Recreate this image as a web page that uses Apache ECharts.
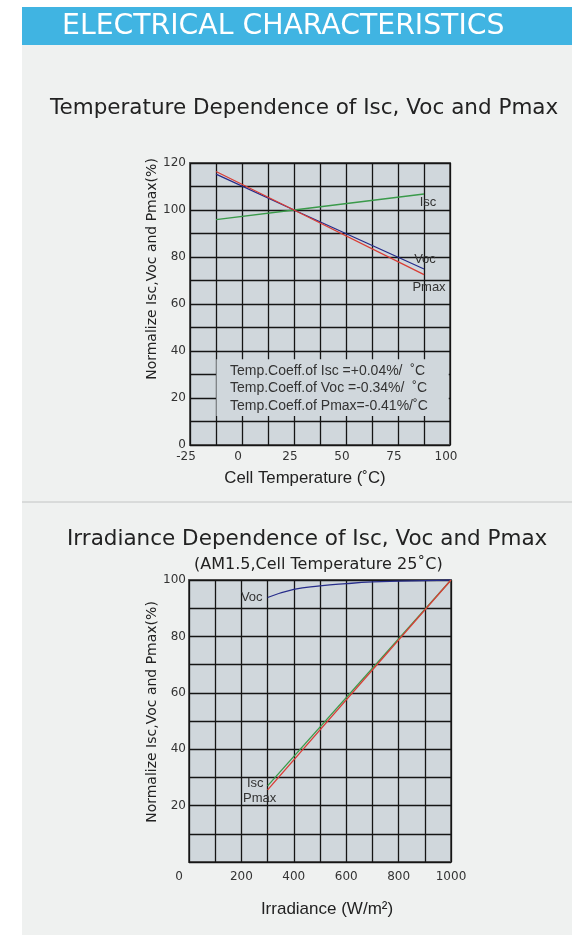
<!DOCTYPE html>
<html><head><meta charset="utf-8">
<script src="https://cdn.jsdelivr.net/npm/echarts@6/dist/echarts.min.js"></script>
<style>html,body{margin:0;padding:0;background:#fff}#c{width:572px;height:935px}</style>
</head><body><div id="c"></div>
<script>
// ---- data ----
const tempX = [-12.5, 25, 87.5];
const tempIsc = [95.9, 100, 106.8];
const tempVoc = [115.3, 100, 74.9];
const tempPmax = [116.4, 100, 72.5];
const irrVocX = [300, 400, 500, 600, 700, 800, 900, 1000];
const irrVoc = [93.8, 96.7, 97.9, 98.7, 99.3, 99.6, 99.8, 100];
const irrLinX = [300, 1000];
const irrIsc = [27, 100];
const irrPmax = [25.6, 100];
const coeffLines = ['Temp.Coeff.of Isc =+0.04%/  \u02DAC', 'Temp.Coeff.of Voc =-0.34%/  \u02DAC', 'Temp.Coeff.of Pmax=-0.41%/\u02DAC'];
const yName = 'Normalize Isc,Voc and Pmax(%)';

const C_ISC = '#3a9a4a', C_VOC = '#262c8a', C_PMAX = '#d93d35';
const DJ = '"DejaVu Sans", Verdana, sans-serif';
const LS = '"Liberation Sans", Arial, sans-serif';
const lblStyle = {color: '#333', fontFamily: LS, fontSize: 13};

function pts(xs, ys, labelIdx, name, labelOpt) {
  return xs.map((x, i) => {
    const d = {value: [x, ys[i]]};
    if (i === labelIdx) d.label = Object.assign({show: true, formatter: name}, lblStyle, labelOpt);
    return d;
  });
}
function lineSeries(name, xi, color, data, extra) {
  return Object.assign({type: 'line', name: name, xAxisIndex: xi, yAxisIndex: xi,
    symbol: 'circle', symbolSize: 0.01, showSymbol: true, showAllSymbol: true,
    itemStyle: {color: color}, lineStyle: {color: color, width: 1.3}, data: data}, extra || {});
}

const splitStyle = {show: true, lineStyle: {color: '#151515', width: 1.3}};
const axLabel = {color: '#333', fontFamily: DJ, fontSize: 12};

const chart = echarts.init(document.getElementById('c'));
chart.setOption({
  animation: false,
  graphic: [
    {type: 'rect', z: -20, shape: {x: 22, y: 45, width: 550, height: 890}, style: {fill: '#eff1f0'}},
    {type: 'rect', z: -20, shape: {x: 22, y: 7, width: 550, height: 38}, style: {fill: '#40b4e2'}},
    {type: 'line', z: -20, shape: {x1: 22, y1: 502, x2: 572, y2: 502}, style: {stroke: '#c2c4c4', lineWidth: 1}},
    {type: 'text', z: 100, x: 230, y: 362, style: {text: coeffLines.join('\n'), font: '14px "Liberation Sans"', lineHeight: 17.5, fill: '#333'}}
  ],
  title: [
    {text: 'ELECTRICAL CHARACTERISTICS', left: 62, top: 13, padding: 0, textStyle: {color: '#fff', fontSize: 28.3, fontWeight: 'normal', fontFamily: DJ}},
    {text: 'Temperature Dependence of Isc, Voc and Pmax', left: 50, top: 97, padding: 0, textStyle: {color: '#222', fontSize: 21.5, fontWeight: 'normal', fontFamily: DJ}},
    {text: 'Irradiance Dependence of Isc, Voc and Pmax', left: 67, top: 528, padding: 0, textStyle: {color: '#222', fontSize: 21.5, fontWeight: 'normal', fontFamily: DJ}},
    {text: '(AM1.5,Cell Temperature 25\u02DAC)', left: 194, top: 557, padding: 0, textStyle: {color: '#222', fontSize: 16, fontWeight: 'normal', fontFamily: DJ}}
  ],
  grid: [
    {left: 190, top: 163, width: 260, height: 282, show: true, backgroundColor: '#d0d7dc', borderColor: '#5a5a5a', borderWidth: 2},
    {left: 189, top: 580, width: 262, height: 282, show: true, backgroundColor: '#d0d7dc', borderColor: '#5a5a5a', borderWidth: 2}
  ],
  xAxis: [
    {gridIndex: 0, type: 'value', min: -25, max: 100, interval: 12.5,
     axisLine: {show: false}, axisTick: {show: false}, splitLine: splitStyle,
     axisLabel: Object.assign({}, axLabel, {margin: 6, padding: [0, 8, 0, 0], formatter: v => (v % 25 === 0 ? String(v) : '')}),
     name: 'Cell Temperature (\u02DAC)', nameLocation: 'middle', nameGap: 25,
     nameTextStyle: {color: '#222', fontFamily: LS, fontSize: 16.8, padding: [0, 30, 0, 0]}},
    {gridIndex: 1, type: 'value', min: 0, max: 1000, interval: 100,
     axisLine: {show: false}, axisTick: {show: false}, splitLine: splitStyle,
     axisLabel: Object.assign({}, axLabel, {margin: 9, formatter: v => (v === 0 ? '{z|0}' : (v % 200 === 0 ? String(v) : '')),
       rich: {z: {padding: [0, 20, 0, 0], color: '#333', fontFamily: DJ, fontSize: 12}}}),
     name: 'Irradiance (W/m\u00B2)', nameLocation: 'middle', nameGap: 39,
     nameTextStyle: {color: '#222', fontFamily: LS, fontSize: 17, padding: [0, 0, 0, 14]}}
  ],
  yAxis: [
    {gridIndex: 0, type: 'value', min: 0, max: 120, interval: 10,
     axisLine: {show: false}, axisTick: {show: false}, splitLine: splitStyle,
     axisLabel: Object.assign({}, axLabel, {margin: 4, formatter: v => (v % 20 === 0 ? String(v) : '')}),
     name: yName, nameLocation: 'middle', nameGap: 29,
     nameTextStyle: {color: '#222', fontFamily: DJ, fontSize: 14, padding: [0, 0, 0, 70]}},
    {gridIndex: 1, type: 'value', min: 0, max: 100, interval: 10,
     axisLine: {show: false}, axisTick: {show: false}, splitLine: splitStyle,
     axisLabel: Object.assign({}, axLabel, {margin: 3, formatter: v => (v % 20 === 0 && v > 0 ? String(v) : '')}),
     name: yName, nameLocation: 'middle', nameGap: 23,
     nameTextStyle: {color: '#222', fontFamily: DJ, fontSize: 14, padding: [0, 0, 0, 18]}}
  ],
  series: [
    lineSeries('Isc', 0, C_ISC, pts(tempX, tempIsc, 2, 'Isc', {position: 'bottom', distance: 2, offset: [4, 0]}),
      {markArea: {silent: true, itemStyle: {color: '#d0d7dc', opacity: 1}, data: [[{coord: [-12.3, 36.5]}, {coord: [99.4, 12.3]}]]}}),
    lineSeries('Voc', 0, C_VOC, pts(tempX, tempVoc, 2, 'Voc', {position: 'top', distance: 3, offset: [1, 0]})),
    lineSeries('Pmax', 0, C_PMAX, pts(tempX, tempPmax, 2, 'Pmax', {position: 'bottom', distance: 6, offset: [5, 0]})),
    lineSeries('Voc2', 1, C_VOC, pts(irrVocX, irrVoc, 0, 'Voc', {position: 'left', distance: 5}), {smooth: true}),
    lineSeries('Isc2', 1, C_ISC, pts(irrLinX, irrIsc, 0, 'Isc', {position: 'left', distance: 3, offset: [-1, -2]})),
    lineSeries('Pmax2', 1, C_PMAX, pts(irrLinX, irrPmax, 0, 'Pmax', {position: 'bottom', distance: 2.5, offset: [-8, 0]}))
  ]
});
</script></body></html>
